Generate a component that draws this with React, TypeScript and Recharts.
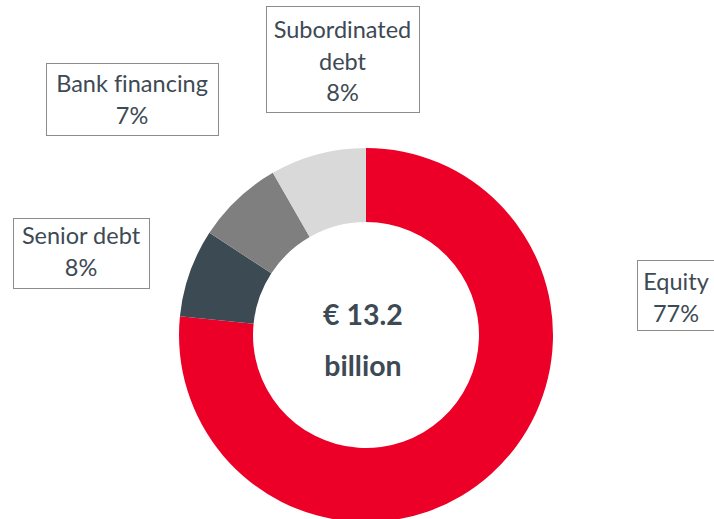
import React from 'react';
import { PieChart, Pie, Cell } from 'recharts';

// funding mix, share of total (%) as drawn, and the rounded figure printed in each box
const segments = ['Equity', 'Senior debt', 'Bank financing', 'Subordinated debt'];
const shares = [76.6, 7.6, 7.5, 8.3];
const shareLabels = ['77%', '8%', '7%', '8%'];
const labelLines = [['Equity'], ['Senior debt'], ['Bank financing'], ['Subordinated', 'debt']];
const colors = ['#EC0028', '#3C4A53', '#7F7F7F', '#D9D9D9'];
const totalLines = ['€ 13.2', 'billion'];

// label boxes: x, y, w, h, first baseline
const boxes = [
    { x: 637, y: 260, w: 78, h: 70, base: 290 },
    { x: 13, y: 218, w: 136, h: 70, base: 244 },
    { x: 46, y: 63, w: 172, h: 72, base: 92 },
    { x: 266, y: 6, w: 153, h: 106, base: 38 },
];

const data = segments.map((name, i) => ({ name, value: shares[i] }));

const FONT = 'Lato, "Open Sans", sans-serif';
const TEXT = '#3D4A54';
const LINE_H = 31.5;

const renderLabel = (props: any) => {
    const i = props.index;
    const b = boxes[i];
    const lines = [...labelLines[i], shareLabels[i]];
    const cx = b.x + b.w / 2;
    return (
        <g key={`lbl-${i}`}>
            <rect x={b.x + 0.5} y={b.y + 0.5} width={b.w} height={b.h} fill="#fff" stroke="#8C8C8C" strokeWidth={1} />
            {lines.map((t, j) => (
                <text key={j} x={cx} y={b.base + j * LINE_H} textAnchor="middle" fill={TEXT}
                      style={{ fontFamily: FONT, fontSize: 23.5, fontVariantLigatures: 'none' }}>{t}</text>
            ))}
        </g>
    );
};

export default function App() {
    return (
        <div style={{ position: 'absolute', left: 0, top: 0, width: 714, height: 519, background: '#fff', overflow: 'hidden' }}>
            <PieChart width={714} height={519} margin={{ top: 0, right: 0, bottom: 0, left: 0 }}>
                <Pie data={data} dataKey="value" nameKey="name" cx={366} cy={335}
                     innerRadius={113} outerRadius={187} startAngle={90} endAngle={-270}
                     stroke="none" label={renderLabel} labelLine={false}
                     isAnimationActive={false}>
                    {data.map((d, i) => <Cell key={d.name} fill={colors[i]} />)}
                </Pie>
                <text x={363} y={325} textAnchor="middle" fill={TEXT} style={{ fontFamily: FONT, fontSize: 28.5, fontWeight: 700 }}>{totalLines[0]}</text>
                <text x={363} y={376} textAnchor="middle" fill={TEXT} style={{ fontFamily: FONT, fontSize: 28.5, fontWeight: 700 }}>{totalLines[1]}</text>
            </PieChart>
        </div>
    );
}
